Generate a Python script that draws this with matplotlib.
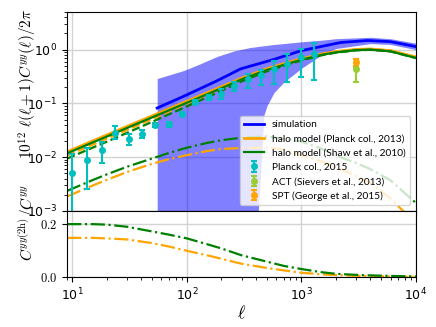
import numpy as np
import matplotlib
matplotlib.use('Agg')
import matplotlib.pyplot as plt
from matplotlib.ticker import FuncFormatter

plt.rcParams['mathtext.fontset'] = 'cm'

# multipoles where the model curves were read
ell = [9, 15, 20, 30, 50, 70, 100, 150, 200, 300, 500, 700, 1000, 1500, 2000, 3000, 4000, 6000, 10000]

# halo model (Planck col., 2013): total, 1-halo, 2-halo, 2h/total
planck_tot = [0.0126, 0.020, 0.0259, 0.0373, 0.059, 0.080, 0.110, 0.158, 0.205, 0.295, 0.445, 0.55, 0.68, 0.83, 0.92, 1.01, 1.03, 0.96, 0.73]
planck_1h = [0.0107, 0.0170, 0.0221, 0.0320, 0.0514, 0.0708, 0.0991, 0.145, 0.191, 0.280, 0.430, 0.536, 0.669, 0.822, 0.914, 1.005, 1.027, 0.958, 0.729]
planck_2h = [0.00186, 0.00296, 0.00378, 0.0053, 0.00755, 0.0092, 0.0109, 0.0130, 0.0142, 0.0148, 0.0151, 0.0138, 0.0109, 0.0083, 0.0064, 0.0045, 0.0033, 0.0017, 0.00058]
planck_ratio = [0.148, 0.148, 0.146, 0.142, 0.128, 0.115, 0.099, 0.082, 0.069, 0.050, 0.034, 0.025, 0.016, 0.010, 0.007, 0.0045, 0.0032, 0.0018, 0.0008]

# halo model (Shaw et al., 2010)
shaw_tot = [0.0118, 0.0187, 0.0242, 0.0349, 0.0552, 0.0747, 0.103, 0.148, 0.192, 0.28, 0.42, 0.52, 0.65, 0.80, 0.89, 0.98, 1.0, 0.93, 0.70]
shaw_1h = [0.0094, 0.0150, 0.0194, 0.0283, 0.0457, 0.0628, 0.0880, 0.1297, 0.1713, 0.257, 0.396, 0.498, 0.63, 0.786, 0.879, 0.972, 0.994, 0.926, 0.699]
shaw_2h = [0.00236, 0.00374, 0.00479, 0.00663, 0.00949, 0.0120, 0.0150, 0.0184, 0.0207, 0.0230, 0.0244, 0.0218, 0.0195, 0.0144, 0.0107, 0.0078, 0.0060, 0.0037, 0.0014]
shaw_ratio = [0.2, 0.2, 0.198, 0.19, 0.172, 0.16, 0.146, 0.124, 0.108, 0.082, 0.058, 0.042, 0.03, 0.018, 0.012, 0.008, 0.006, 0.004, 0.002]

# simulation mean and scatter band
sim_ell = [55, 94, 184, 295, 577, 1000, 2200, 3800, 6000, 10000]
sim_mean = [0.082, 0.136, 0.265, 0.44, 0.66, 0.96, 1.36, 1.48, 1.41, 1.14]
band_ell = [55, 94, 132, 184, 260, 360, 400, 420, 450, 470, 500, 577, 705, 1000, 1500, 2000, 4000, 6000, 10000]
band_lo = [1e-4, 1e-4, 1e-4, 1e-4, 1e-4, 1e-4, 1e-4, 0.001, 0.01, 0.06, 0.09, 0.16, 0.25, 0.45, 0.8, 1.05, 1.3, 1.25, 1.0]
band_hi = [0.29, 0.41, 0.55, 0.75, 0.95, 1.1, 1.13, 1.15, 1.17, 1.18, 1.2, 1.25, 1.3, 1.4, 1.5, 1.6, 1.7, 1.6, 1.32]

# Planck 2015 tSZ spectrum
pl_ell = [10, 13.5, 18, 23.6, 31, 40.5, 53, 70, 91, 117, 156, 200, 258, 342, 441, 577, 755, 988, 1276]
pl_val = [0.0051, 0.0088, 0.0135, 0.0286, 0.0215, 0.0275, 0.040, 0.041, 0.063, 0.106, 0.131, 0.151, 0.207, 0.28, 0.34, 0.44, 0.53, 0.72, 0.84]
pl_lo = [0.0001, 0.0026, 0.0079, 0.0215, 0.0166, 0.0227, 0.036, 0.037, 0.058, 0.097, 0.115, 0.122, 0.168, 0.195, 0.22, 0.23, 0.255, 0.316, 0.27]
pl_hi = [0.0117, 0.015, 0.0192, 0.0375, 0.027, 0.0326, 0.044, 0.046, 0.069, 0.116, 0.145, 0.187, 0.245, 0.35, 0.41, 0.62, 0.83, 1.02, 1.35]

act_ell, act_val, act_lo, act_hi = [3000], [0.43], [0.255], [0.48]
spt_ell, spt_val, spt_lo, spt_hi = [3000], [0.58], [0.49], [0.66]

fig = plt.figure(figsize=(4.36, 3.27), dpi=100)
ax = fig.add_axes([0.154, 0.355, 0.800, 0.608])
ax2 = fig.add_axes([0.154, 0.153, 0.800, 0.202], sharex=ax)

ax.fill_between(band_ell, band_lo, band_hi, color='b', alpha=0.5, lw=0)
l_sim, = ax.plot(sim_ell, sim_mean, color='b', lw=2, label='simulation')

l_pl, = ax.plot(ell, planck_tot, color='orange', lw=2, label='halo model (Planck col., 2013)')
ax.plot(ell, planck_1h, color='orange', lw=1.6, ls='--')
ax.plot(ell, planck_2h, color='orange', lw=1.6, ls='-.')
l_sh, = ax.plot(ell, shaw_tot, color='green', lw=1.6, label='halo model (Shaw et al., 2010)')
ax.plot(ell, shaw_1h, color='green', lw=1.6, ls='--')
ax.plot(ell, shaw_2h, color='green', lw=1.6, ls='-.')

def err(v, lo, hi):
    return [np.array(v) - np.array(lo), np.array(hi) - np.array(v)]

e_pl = ax.errorbar(pl_ell, pl_val, yerr=err(pl_val, pl_lo, pl_hi), fmt='o', color='c',
                   ms=4, capsize=2, elinewidth=1.5, capthick=1.5, label='Planck col., 2015')
e_act = ax.errorbar(act_ell, act_val, yerr=err(act_val, act_lo, act_hi), fmt='o', color='yellowgreen',
                    ms=4, capsize=2, elinewidth=1.5, capthick=1.5, label='ACT (Sievers et al., 2013)')
e_spt = ax.errorbar(spt_ell, spt_val, yerr=err(spt_val, spt_lo, spt_hi), fmt='o', color='orange',
                    ms=4, capsize=2, elinewidth=1.5, capthick=1.5, label='SPT (George et al., 2015)')

ax.set_xscale('log')
ax.set_yscale('log')
ax.set_xlim(9, 1e4)
ax.set_ylim(1e-3, 5)
ax.grid(True, color='lightgray', lw=1)
ax.set_axisbelow(True)
plt.setp(ax.get_xticklabels(), visible=False)
ax.tick_params(labelsize=9)
ax.set_ylabel(r'$10^{12}\ \ell(\ell+1)C^{yy}(\ell)/2\pi$', fontsize=11)
ax.yaxis.set_label_coords(-0.082, 0.64)

leg = ax.legend([l_sim, l_pl, l_sh, e_pl, e_act, e_spt],
                [h.get_label() for h in [l_sim, l_pl, l_sh, e_pl, e_act, e_spt]],
                loc='lower right', prop={'family': 'Lato', 'size': 7.3}, framealpha=0.8,
                labelspacing=0.5, borderaxespad=0.6)

ax2.plot(ell, planck_ratio, color='orange', lw=1.6, ls='-.')
ax2.plot(ell, shaw_ratio, color='green', lw=1.6, ls='-.')
ax2.set_ylim(0, 0.25)
ax2.set_yticks([0.0, 0.2])
ax2.yaxis.set_major_formatter(FuncFormatter(lambda v, p: r'$%.1f$' % v))
ax2.grid(True, color='lightgray', lw=1)
ax2.tick_params(labelsize=9)
ax2.set_xlabel(r'$\ell$', fontsize=13, labelpad=1)
ax2.set_ylabel(r'$C^{yy(\mathrm{2h})}/C^{yy}$', fontsize=11)
ax2.yaxis.set_label_coords(-0.082, 0.82)

fig.savefig('out.png', dpi=100)
